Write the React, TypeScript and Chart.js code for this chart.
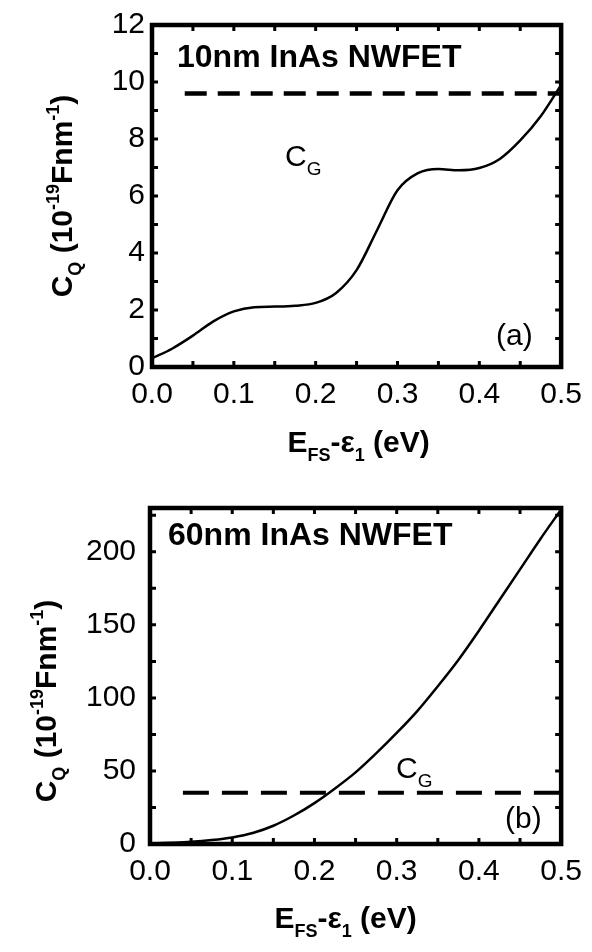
import React, { useEffect, useRef } from "react";
import { Chart, registerables } from "chart.js";

Chart.register(...registerables);

// ---------- data ----------
// Panel (a): 10nm InAs NWFET
const xA = [0, 0.025, 0.05, 0.075, 0.1, 0.125, 0.15, 0.175, 0.2, 0.225, 0.25, 0.275, 0.3, 0.325, 0.35, 0.375, 0.4, 0.425, 0.45, 0.475, 0.5];
const cqA = [0.3, 0.65, 1.1, 1.6, 1.95, 2.1, 2.12, 2.15, 2.25, 2.6, 3.4, 4.8, 6.2, 6.8, 6.95, 6.9, 6.98, 7.3, 7.95, 8.8, 9.9];
const cgA = 9.6;
const cgXA = [0.04, 0.5];

// Panel (b): 60nm InAs NWFET
const xB = [0, 0.025, 0.05, 0.075, 0.1, 0.125, 0.15, 0.175, 0.2, 0.225, 0.25, 0.275, 0.3, 0.325, 0.35, 0.375, 0.4, 0.425, 0.45, 0.475, 0.5];
const cqB = [0.3, 0.8, 1.5, 2.7, 4.5, 7.5, 12.5, 19.5, 28, 38, 49, 62, 76, 91, 108, 126, 146, 167, 188, 209, 229];
const cgB = 35;
const cgXB = [0.04, 0.5];

const xTickStep = 0.1;
const yStepA = 2;
const yMaxA = 12;
const yStepB = 50;
const yMaxB = 230;

const titleA = "10nm InAs NWFET";
const titleB = "60nm InAs NWFET";
const tagA = "(a)";
const tagB = "(b)";

const FONT = "'Liberation Sans', Arial, sans-serif";

type Seg = { t: string; size: number; bold?: boolean; dy?: number };

function fontOf(s: Seg) {
  return `${s.bold ? "bold " : ""}${s.size}px ${FONT}`;
}

function drawRich(ctx: CanvasRenderingContext2D, segs: Seg[], x: number, y: number, align: "left" | "center") {
  let total = 0;
  const widths = segs.map((s) => {
    ctx.font = fontOf(s);
    const w = ctx.measureText(s.t).width;
    total += w;
    return w;
  });
  let cx = align === "center" ? x - total / 2 : x;
  ctx.textAlign = "left";
  ctx.textBaseline = "alphabetic";
  segs.forEach((s, i) => {
    ctx.font = fontOf(s);
    ctx.fillText(s.t, cx, y + (s.dy || 0));
    cx += widths[i];
  });
}

const yTitleSegs: Seg[] = [
  { t: "C", size: 30, bold: true },
  { t: "Q", size: 18, bold: true, dy: 9 },
  { t: " (10", size: 30, bold: true },
  { t: "-19", size: 18, bold: true, dy: -13 },
  { t: "Fnm", size: 30, bold: true },
  { t: "-1", size: 18, bold: true, dy: -13 },
  { t: ")", size: 30, bold: true },
];

const xTitleSegs: Seg[] = [
  { t: "E", size: 30, bold: true },
  { t: "FS", size: 18, bold: true, dy: 9 },
  { t: "-ε", size: 30, bold: true },
  { t: "1", size: 18, bold: true, dy: 9 },
  { t: " (eV)", size: 30, bold: true },
];

const cgSegs: Seg[] = [
  { t: "C", size: 30 },
  { t: "G", size: 19, dy: 9 },
];

type Deco = {
  yMinorStep: number;
  xMinorStep: number;
  yTitleX: number;
  yTitleDy: number;
  xTitleY: number;
  xTitleDx: number;
  label: string;
  labelX: number;
  labelY: number;
  cgX: number;
  cgY: number;
  tag: string;
  tagX: number;
  tagY: number;
};

function makeDecoPlugin(d: Deco) {
  return {
    id: "deco",
    afterDraw(chart: any) {
      const ctx: CanvasRenderingContext2D = chart.ctx;
      const a = chart.chartArea;
      const xs = chart.scales.x;
      const ys = chart.scales.y;
      ctx.save();
      ctx.strokeStyle = "#000";
      ctx.fillStyle = "#000";
      ctx.lineWidth = 3;
      ctx.lineCap = "butt";
      const tl = 6;
      // x ticks (major + minor), inward on bottom and top
      const xVals: number[] = [];
      for (let v = xs.min; v <= xs.max + 1e-9; v += d.xMinorStep) xVals.push(v);
      xVals.forEach((v) => {
        const px = xs.getPixelForValue(v);
        if (px <= a.left + 1 || px >= a.right - 1) return;
        ctx.beginPath();
        ctx.moveTo(px, a.bottom);
        ctx.lineTo(px, a.bottom - tl);
        ctx.moveTo(px, a.top);
        ctx.lineTo(px, a.top + tl);
        ctx.stroke();
      });
      const yVals: number[] = [];
      for (let v = ys.min; v <= ys.max + 1e-9; v += d.yMinorStep) yVals.push(v);
      yVals.forEach((v) => {
        const py = ys.getPixelForValue(v);
        if (py <= a.top + 1 || py >= a.bottom - 1) return;
        ctx.beginPath();
        ctx.moveTo(a.left, py);
        ctx.lineTo(a.left + tl, py);
        ctx.moveTo(a.right, py);
        ctx.lineTo(a.right - tl, py);
        ctx.stroke();
      });
      // frame
      ctx.lineWidth = 4.5;
      ctx.strokeRect(a.left, a.top, a.right - a.left, a.bottom - a.top);

      // y title (rotated)
      ctx.save();
      ctx.translate(d.yTitleX, (a.top + a.bottom) / 2 + d.yTitleDy);
      ctx.rotate(-Math.PI / 2);
      drawRich(ctx, yTitleSegs, 0, 0, "center");
      ctx.restore();

      // x title
      drawRich(ctx, xTitleSegs, (a.left + a.right) / 2 + d.xTitleDx, d.xTitleY, "center");

      // annotation texts
      ctx.textBaseline = "middle";
      ctx.textAlign = "left";
      ctx.font = `bold 32px ${FONT}`;
      ctx.fillText(d.label, d.labelX, d.labelY);
      drawRich(ctx, cgSegs, d.cgX, d.cgY, "left");
      ctx.font = `30px ${FONT}`;
      ctx.textBaseline = "middle";
      ctx.fillText(d.tag, d.tagX, d.tagY);
      ctx.restore();
    },
  };
}

function buildConfig(
  xs: number[],
  ys: number[],
  cg: number,
  cgX: number[],
  yStep: number,
  yMax: number,
  dash: number[],
  dashW: number,
  pad: { top: number; right: number },
  yWidth: number,
  xHeight: number,
  yPad: number,
  deco: Deco
): any {
  return {
    type: "line",
    data: {
      datasets: [
        {
          data: xs.map((x, i) => ({ x, y: ys[i] })),
          borderColor: "#000",
          borderWidth: 2.5,
          pointRadius: 0,
          cubicInterpolationMode: "monotone",
          fill: false,
        },
        {
          data: cgX.map((x) => ({ x, y: cg })),
          borderColor: "#000",
          borderWidth: dashW,
          borderDash: dash,
          borderCapStyle: "butt",
          pointRadius: 0,
          fill: false,
        },
      ],
    },
    options: {
      responsive: false,
      animation: false,
      devicePixelRatio: 1,
      layout: { padding: { top: pad.top, right: pad.right, left: 0, bottom: 0 } },
      plugins: { legend: { display: false }, tooltip: { enabled: false } },
      scales: {
        x: {
          type: "linear",
          min: 0,
          max: 0.5,
          afterFit: (s: any) => {
            s.height = xHeight;
          },
          grid: { display: false, drawTicks: false },
          border: { display: false },
          ticks: {
            stepSize: xTickStep,
            color: "#000",
            font: { size: 30, family: FONT },
            padding: 10,
            maxRotation: 0,
            autoSkip: false,
            callback: (v: any) => Number(v).toFixed(1),
          },
        },
        y: {
          type: "linear",
          min: 0,
          max: yMax,
          afterFit: (s: any) => {
            s.width = yWidth;
          },
          afterBuildTicks: (s: any) => {
            s.ticks = s.ticks.filter((t: any) => Math.abs(t.value / yStep - Math.round(t.value / yStep)) < 1e-6);
          },
          grid: { display: false, drawTicks: false },
          border: { display: false },
          ticks: {
            stepSize: yStep,
            includeBounds: false,
            color: "#000",
            font: { size: 30, family: FONT },
            padding: yPad,
            autoSkip: false,
          },
        },
      },
    },
    plugins: [makeDecoPlugin(deco)],
  };
}

function Panel(props: { config: any; top: number }) {
  const ref = useRef<HTMLCanvasElement | null>(null);
  useEffect(() => {
    if (!ref.current) return;
    const chart = new Chart(ref.current, props.config);
    return () => chart.destroy();
  }, []);
  return (
    <canvas
      ref={ref}
      width={592}
      height={476}
      style={{ position: "absolute", left: 0, top: props.top, width: 592, height: 476, display: "block" }}
    />
  );
}

export default function App() {
  const cfgA = buildConfig(
    xA, cqA, cgA, cgXA, yStepA, yMaxA, [22, 11], 4.5,
    { top: 18, right: 27 }, 152, 109, 7,
    {
      yMinorStep: 1,
      xMinorStep: 0.05,
      yTitleX: 72,
      yTitleDy: 0,
      xTitleY: 452,
      xTitleDx: 2,
      label: titleA,
      labelX: 177,
      labelY: 58,
      cgX: 285,
      cgY: 166,
      tag: tagA,
      tagX: 496,
      tagY: 337,
    }
  );
  const cfgB = buildConfig(
    xB, cqB, cgB, cgXB, yStepB, yMaxB, [26, 13], 4,
    { top: 23, right: 26 }, 150, 108, 14,
    {
      yMinorStep: 25,
      xMinorStep: 0.05,
      yTitleX: 56,
      yTitleDy: 25,
      xTitleY: 452,
      xTitleDx: -10,
      label: titleB,
      labelX: 168,
      labelY: 60,
      cgX: 396,
      cgY: 302,
      tag: tagB,
      tagX: 505,
      tagY: 344,
    }
  );
  return (
    <div style={{ position: "absolute", left: 0, top: 0, width: 592, height: 952, background: "#fff" }}>
      <Panel config={cfgA} top={0} />
      <Panel config={cfgB} top={476} />
    </div>
  );
}
